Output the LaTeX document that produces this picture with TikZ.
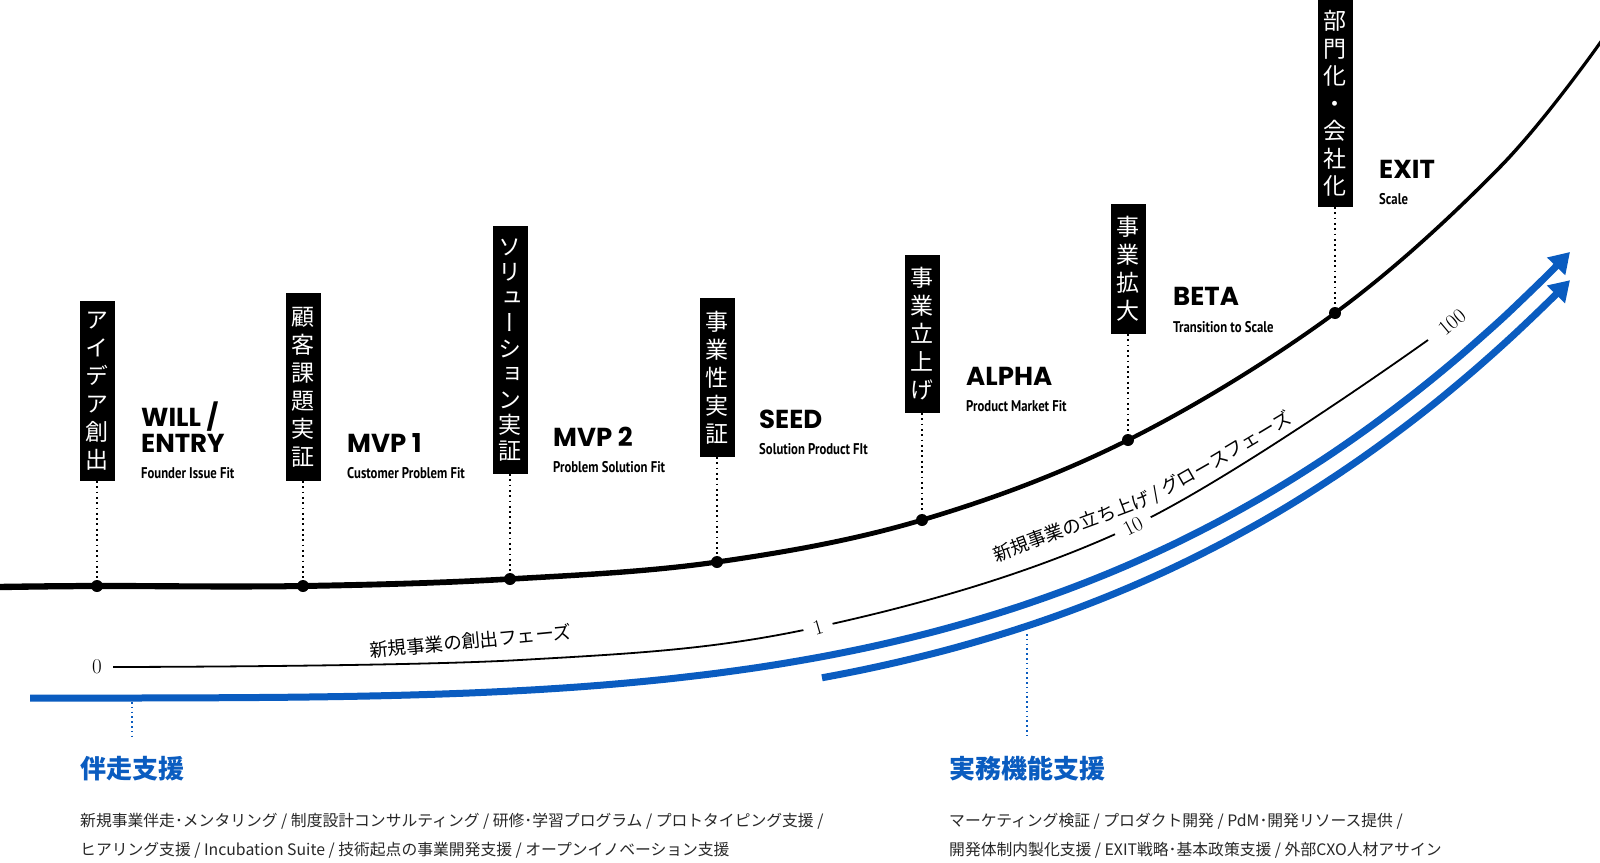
\documentclass[tikz,border=0pt]{standalone}
\usepackage{fontspec}
\usetikzlibrary{arrows.meta,decorations.text}
\newfontfamily\jpfnt{Noto Sans CJK JP}
\newfontfamily\jpvfnt{Noto Sans CJK JP}[RawFeature=+vert]
\newfontfamily\titlefnt{Poppins}
\newfontfamily\subfnt{PT Sans}[FakeStretch=0.82]
\definecolor{brandblue}{RGB}{10,92,192}
\definecolor{bodygray}{RGB}{40,40,40}
\tikzset{
  stagebox/.style={fill=black, text=white, font=\jpvfnt\fontsize{23}{28}\selectfont, align=center,
    minimum width=35pt, inner xsep=0pt, inner ysep=0pt, anchor=south},
  stagedot/.style={circle, fill=black, minimum size=12pt, inner sep=0pt},
  stageguide/.style={line width=1.8pt, dash pattern=on 1.8pt off 3.5pt},
  stagetitle/.style={font=\titlefnt\bfseries\fontsize{26}{26}\selectfont, anchor=base west, inner sep=0pt, align=left},
  stagesub/.style={font=\subfnt\bfseries\fontsize{15.5}{16}\selectfont, anchor=base west, inner sep=0pt},
  bluearrow/.style={line width=7pt, draw=brandblue, -{Triangle[length=20pt,width=24pt]}},
  blueguide/.style={draw=brandblue, line width=1.6pt, dash pattern=on 1.6pt off 3.2pt},
  scaleline/.style={line width=1.8pt},
  scalenum/.style={font=\rmfamily\fontsize{21}{21}\selectfont, fill=white, inner xsep=10pt, inner ysep=1pt},
  phaselabel/.style={font=\jpfnt\fontsize{18.5}{20}\selectfont, inner sep=0pt},
  supporthead/.style={font=\jpfnt\bfseries\fontsize{26}{28}\selectfont, text=brandblue, anchor=west, inner sep=0pt},
  supportbody/.style={font=\jpfnt\fontsize{15.8}{29}\selectfont, text=bodygray, anchor=base west, inner sep=0pt},
}
\begin{document}
\begin{tikzpicture}[x=1pt,y=-1pt]
\useasboundingbox (0,0) rectangle (1600,862);
\fill[white] (0,0) rectangle (1600,862);

% thin scale line with numbers
\draw[scaleline] plot[smooth,tension=0.6] coordinates {(113,667) (520,660) (818,627) (1133,526) (1428,340)};
\node[scalenum, fill=none, inner xsep=0pt] (n0) at (97,667) {0};
\node[scalenum, rotate=16] (n1) at (818,627) {1};
\node[scalenum, rotate=27] (n10) at (1133,526) {10};
\node[scalenum, fill=none, inner xsep=0pt, rotate=40] (n100) at (1452,322) {100};

% phase labels
\node[phaselabel, rotate=5.5] (p1) at (470.5,641) {新規事業の創出フェーズ};
\path[decorate, decoration={text along path, text align=left,
  text={|\jpfnt\fontsize{18.5}{20}\selectfont|新規事業の立ち上げ / グロースフェーズ}}]
  (996,562) -- (1033,548) -- (1071,534) -- (1109,520) -- (1146,506) -- (1181,488) -- (1216,468)
  -- (1251,447) -- (1286,426) -- (1310,411) -- (1334,396);

% blue arrows
\draw[bluearrow] plot[smooth, domain=30:1570, samples=71] (\x, {698-446*((\x-29)/1541)^3.58});
\draw[bluearrow] plot[smooth, domain=822:1570, samples=40] (\x, {698+20+8*((\x-29)/1541)^3-446*((\x-29)/1541)^3.58});

% main growth curve (slightly tapering)
\fill plot[smooth,tension=0.6] coordinates {(0,583.8) (97,582.9) (303,583) (510,576.2) (717,559.4) (922,517.55) (1128,437.65) (1335,310.6) (1500,164.45) (1600,40.3)}
  -- plot[smooth,tension=0.6] coordinates {(1600,45.7) (1500,169.55) (1335,315.4) (1128,442.35) (922,522.45) (717,564.6) (510,581.8) (303,589) (97,589.1) (0,590.2)} -- cycle;

% stage dots
\node[stagedot] (d1) at (97,586) {};
\node[stagedot] (d2) at (303,586) {};
\node[stagedot] (d3) at (510,579) {};
\node[stagedot] (d4) at (717,562) {};
\node[stagedot] (d5) at (922,520) {};
\node[stagedot] (d6) at (1128,440) {};
\node[stagedot] (d7) at (1335,313) {};

% stage boxes
\node[stagebox, minimum height=180pt] (b1) at (97,481) {ア\\イ\\デ\\ア\\創\\出};
\node[stagebox, minimum height=188pt] (b2) at (303,481) {顧\\客\\課\\題\\実\\証};
\node[stagebox, minimum height=248pt, font=\jpvfnt\fontsize{23}{25.5}\selectfont] (b3) at (510,474) {ソ\\リ\\ュ\\ー\\シ\\ョ\\ン\\実\\証};
\node[stagebox, minimum height=159pt] (b4) at (717,457) {事\\業\\性\\実\\証};
\node[stagebox, minimum height=158pt] (b5) at (922,413) {事\\業\\立\\上\\げ};
\node[stagebox, minimum height=130pt] (b6) at (1128,334) {事\\業\\拡\\大};
\node[stagebox, minimum height=207pt, font=\jpvfnt\fontsize{23}{27.5}\selectfont] (b7) at (1335,207) {部\\門\\化\\・\\会\\社\\化};

\foreach \i in {1,...,7} { \draw[stageguide] (b\i.south) -- (d\i); }

% stage titles
\node[stagetitle] (t1) at (141,452) {WILL /\\ENTRY};
\node[stagesub] (u1) at (141,478) {Founder Issue Fit};
\node[stagetitle] (t2) at (347,452) {MVP 1};
\node[stagesub] (u2) at (347,478) {Customer Problem Fit};
\node[stagetitle] (t3) at (553,446) {MVP 2};
\node[stagesub] (u3) at (553,472) {Problem Solution Fit};
\node[stagetitle] (t4) at (759,428) {SEED};
\node[stagesub] (u4) at (759,454) {Solution Product FIt};
\node[stagetitle] (t5) at (966,385) {ALPHA};
\node[stagesub] (u5) at (966,411) {Product Market Fit};
\node[stagetitle] (t6) at (1173,305) {BETA};
\node[stagesub] (u6) at (1173,332) {Transition to Scale};
\node[stagetitle] (t7) at (1379,178) {EXIT};
\node[stagesub] (u7) at (1379,204) {Scale};

% support sections
\coordinate (g1a) at (132,702);
\coordinate (g1b) at (132,737);
\draw[blueguide] (g1a) -- (g1b);
\coordinate (g2a) at (1027,634);
\coordinate (g2b) at (1027,737);
\draw[blueguide] (g2a) -- (g2b);

\node[supporthead] (h1) at (80,769) {伴走支援};
\node[supporthead] (h2) at (949,769) {実務機能支援};
\node[supportbody] (l1a) at (80,826) {新規事業伴走･メンタリング / 制度設計コンサルティング / 研修･学習プログラム / プロトタイピング支援 /};
\node[supportbody] (l1b) at (80,855) {ヒアリング支援 / Incubation Suite / 技術起点の事業開発支援 / オープンイノベーション支援};
\node[supportbody] (l2a) at (949,826) {マーケティング検証 / プロダクト開発 / PdM･開発リソース提供 /};
\node[supportbody] (l2b) at (949,855) {開発体制内製化支援 / EXIT戦略･基本政策支援 / 外部CXO人材アサイン};
\end{tikzpicture}
\end{document}
